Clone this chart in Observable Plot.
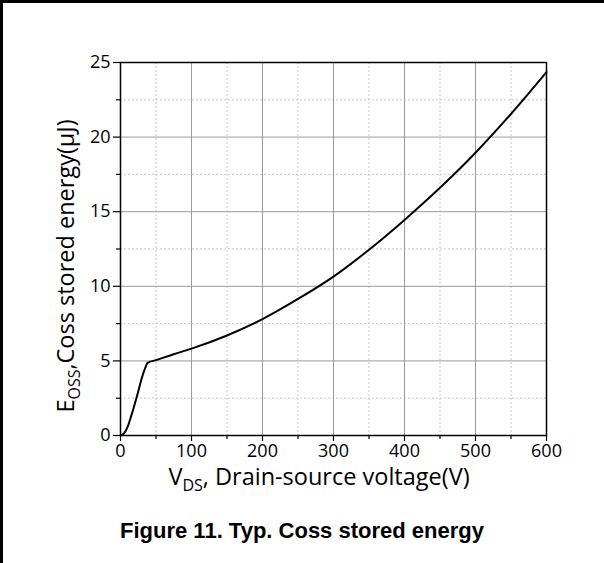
<!DOCTYPE html>
<html>
<head>
<meta charset="utf-8">
<script src="https://cdn.jsdelivr.net/npm/d3@7"></script>
<script src="https://cdn.jsdelivr.net/npm/@observablehq/plot@0.6"></script>
<style>
  html, body { margin: 0; padding: 0; background: #fff; }
  #wrap { position: relative; width: 604px; height: 563px; overflow: hidden; }
  #wrap svg { position: absolute; left: 0; top: 0; }
</style>
</head>
<body>
<div id="wrap"></div>
<script>
// Data
const vds  = [0, 5, 10, 15, 20, 25, 30, 35, 38, 50, 75, 100, 150, 200, 250, 300, 350, 400, 450, 500, 550, 600];
const eoss = [0, 0.15, 0.58, 1.3, 2.1, 2.95, 3.85, 4.55, 4.87, 5.05, 5.45, 5.82, 6.7, 7.8, 9.15, 10.65, 12.45, 14.45, 16.6, 18.95, 21.55, 24.35];
const xMajor = [0, 100, 200, 300, 400, 500, 600];
const xMinor = [50, 150, 250, 350, 450, 550];
const yMajor = [0, 5, 10, 15, 20, 25];
const yMinor = [2.5, 7.5, 12.5, 17.5, 22.5];
const xTitle = ["V", "DS", ", Drain-source voltage(V)"];
const yTitle = ["E", "OSS", ",Coss stored energy(\u03bcJ)"];
const caption = "Figure 11. Typ. Coss stored energy";

const data = vds.map((v, i) => ({v, e: eoss[i]}));

const W = 604, H = 563;
const font = "'Open Sans', 'Noto Sans', sans-serif";

const plot = Plot.plot({
  width: W,
  height: H,
  marginLeft: 120,
  marginRight: 58,
  marginTop: 62,
  marginBottom: 128,
  style: {fontFamily: font, fontSize: "18px", color: "#000", background: "#fff"},
  x: {domain: [0, 600], label: null},
  y: {domain: [0, 25], label: null},
  marks: [
    // minor dotted grid
    Plot.gridX(xMinor, {stroke: "#c8c8c8", strokeOpacity: 1, strokeDasharray: "2,2", strokeWidth: 1}),
    Plot.gridY(yMinor, {stroke: "#c8c8c8", strokeOpacity: 1, strokeDasharray: "2,2", strokeWidth: 1}),
    // major solid grid
    Plot.gridX(xMajor.slice(1, -1), {stroke: "#9a9a9a", strokeOpacity: 1, strokeWidth: 1}),
    Plot.gridY(yMajor.slice(1, -1), {stroke: "#9a9a9a", strokeOpacity: 1, strokeWidth: 1}),
    // curve
    Plot.line(data, {x: "v", y: "e", stroke: "#000", strokeWidth: 2, curve: "monotone-x"}),
    Plot.frame({stroke: "#000", strokeWidth: 1.5}),
    // axes
    Plot.axisX(xMajor, {tickSize: 6, tickPadding: 3, fontSize: 18, stroke: "#000", strokeWidth: 1.2}),
    Plot.axisX(xMinor, {tickSize: 4, text: null, stroke: "#000", strokeWidth: 1.2}),
    Plot.axisY(yMajor, {tickSize: 7, tickPadding: 3, fontSize: 18, stroke: "#000", strokeWidth: 1.2}),
    Plot.axisY(yMinor, {tickSize: 4, text: null, stroke: "#000", strokeWidth: 1.2})
  ]
});

const svg = d3.select(plot);

// x axis title with subscript
const xt = svg.append("text")
  .attr("x", 319).attr("y", 485)
  .attr("text-anchor", "middle")
  .attr("font-family", font).attr("font-size", 23.5).attr("fill", "#000");
xt.append("tspan").text(xTitle[0]);
xt.append("tspan").attr("font-size", 16).attr("dy", 6).text(xTitle[1]);
xt.append("tspan").attr("dy", -6).text(xTitle[2]);

// y axis title with subscript (rotated)
const yt = svg.append("text")
  .attr("transform", "translate(74,266) rotate(-90)")
  .attr("text-anchor", "middle")
  .attr("font-family", font).attr("font-size", 23.5).attr("fill", "#000");
yt.append("tspan").text(yTitle[0]);
yt.append("tspan").attr("font-size", 16).attr("dy", 6).text(yTitle[1]);
yt.append("tspan").attr("dy", -6).text(yTitle[2]);

// caption
svg.append("text")
  .attr("x", 302).attr("y", 538)
  .attr("text-anchor", "middle")
  .attr("font-family", "'Liberation Sans', Arial, sans-serif")
  .attr("font-weight", "bold").attr("font-size", 22).attr("fill", "#000")
  .text(caption);

// outer border: left and top only
svg.append("line").attr("x1", 1.5).attr("x2", 1.5).attr("y1", 0).attr("y2", H)
  .attr("stroke", "#000").attr("stroke-width", 3);
svg.append("line").attr("x1", 0).attr("x2", W).attr("y1", 1.5).attr("y2", 1.5)
  .attr("stroke", "#000").attr("stroke-width", 3);

document.getElementById("wrap").appendChild(plot);
</script>
</body>
</html>
